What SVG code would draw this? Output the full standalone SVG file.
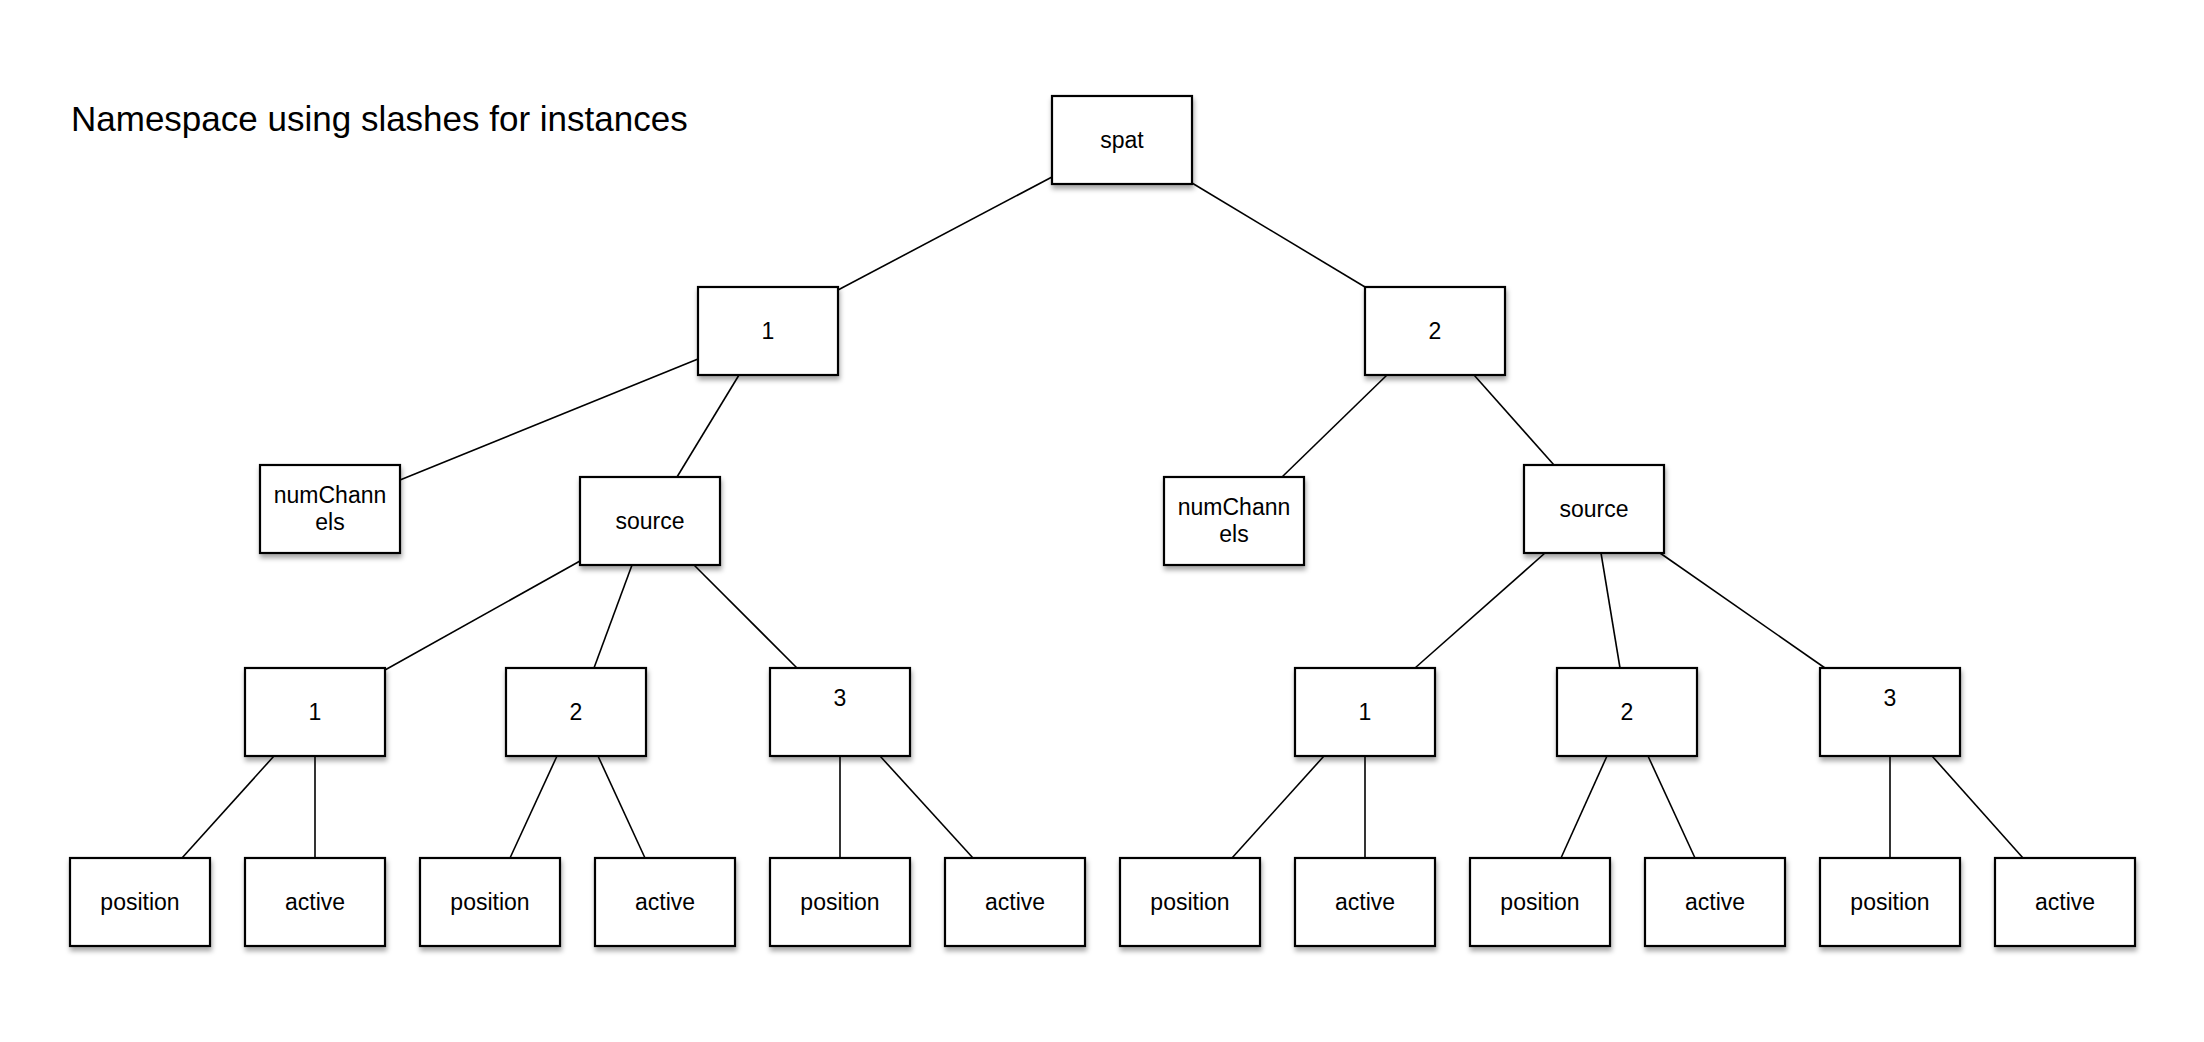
<svg xmlns="http://www.w3.org/2000/svg" width="2204" height="1042" viewBox="0 0 2204 1042">
<style>
.box{fill:#fff;stroke:#000;stroke-width:2.2;filter:url(#sh)}
.lbl{font-family:"Liberation Sans",Arial,Helvetica,sans-serif;font-size:23px;fill:#000;text-anchor:middle}
.title{font-family:"Liberation Sans",Arial,Helvetica,sans-serif;font-size:35px;fill:#000}
.edge{stroke:#000;stroke-width:1.6;fill:none}
</style>
<defs>
<filter id="sh" x="-20%" y="-20%" width="150%" height="150%">
<feDropShadow dx="1" dy="4" stdDeviation="2.5" flood-color="#000" flood-opacity="0.35"/>
</filter>
</defs>
<rect width="2204" height="1042" fill="#fff"/>
<text class="title" x="71" y="131">Namespace using slashes for instances</text>
<g id="connectors">
<line class="edge" x1="1052" y1="177" x2="838" y2="290"/>
<line class="edge" x1="1192" y1="183" x2="1365" y2="287"/>
<line class="edge" x1="698" y1="359" x2="400" y2="480"/>
<line class="edge" x1="739" y1="375" x2="677" y2="477"/>
<line class="edge" x1="580" y1="561" x2="385" y2="670"/>
<line class="edge" x1="632" y1="565" x2="594" y2="668"/>
<line class="edge" x1="694" y1="565" x2="797" y2="668"/>
<line class="edge" x1="274" y1="756" x2="182" y2="858"/>
<line class="edge" x1="315" y1="756" x2="315" y2="858"/>
<line class="edge" x1="557" y1="756" x2="510" y2="858"/>
<line class="edge" x1="598" y1="756" x2="645" y2="858"/>
<line class="edge" x1="840" y1="756" x2="840" y2="858"/>
<line class="edge" x1="880" y1="756" x2="973" y2="858"/>
<line class="edge" x1="1387" y1="375" x2="1282" y2="477"/>
<line class="edge" x1="1474" y1="375" x2="1554" y2="465"/>
<line class="edge" x1="1545" y1="553" x2="1415" y2="668"/>
<line class="edge" x1="1601" y1="553" x2="1620" y2="668"/>
<line class="edge" x1="1660" y1="553" x2="1825" y2="668"/>
<line class="edge" x1="1324" y1="756" x2="1232" y2="858"/>
<line class="edge" x1="1365" y1="756" x2="1365" y2="858"/>
<line class="edge" x1="1607" y1="756" x2="1561" y2="858"/>
<line class="edge" x1="1648" y1="756" x2="1695" y2="858"/>
<line class="edge" x1="1890" y1="756" x2="1890" y2="858"/>
<line class="edge" x1="1932" y1="756" x2="2023" y2="858"/>
</g>
<g id="spat"><rect class="box" x="1052" y="96" width="140" height="88"/><text class="lbl" x="1122" y="148">spat</text></g>
<g id="n1"><rect class="box" x="698" y="287" width="140" height="88"/><text class="lbl" x="768" y="339">1</text></g>
<g id="n2"><rect class="box" x="1365" y="287" width="140" height="88"/><text class="lbl" x="1435" y="339">2</text></g>
<g id="n1_numChannels"><rect class="box" x="260" y="465" width="140" height="88"/><text class="lbl" x="330" y="503">numChann</text><text class="lbl" x="330" y="530">els</text></g>
<g id="n1_source"><rect class="box" x="580" y="477" width="140" height="88"/><text class="lbl" x="650" y="529">source</text></g>
<g id="n2_numChannels"><rect class="box" x="1164" y="477" width="140" height="88"/><text class="lbl" x="1234" y="515">numChann</text><text class="lbl" x="1234" y="542">els</text></g>
<g id="n2_source"><rect class="box" x="1524" y="465" width="140" height="88"/><text class="lbl" x="1594" y="517">source</text></g>
<g id="n1_s1"><rect class="box" x="245" y="668" width="140" height="88"/><text class="lbl" x="315" y="720">1</text></g>
<g id="n1_s2"><rect class="box" x="506" y="668" width="140" height="88"/><text class="lbl" x="576" y="720">2</text></g>
<g id="n1_s3"><rect class="box" x="770" y="668" width="140" height="88"/><text class="lbl" x="840" y="706">3</text></g>
<g id="n2_s1"><rect class="box" x="1295" y="668" width="140" height="88"/><text class="lbl" x="1365" y="720">1</text></g>
<g id="n2_s2"><rect class="box" x="1557" y="668" width="140" height="88"/><text class="lbl" x="1627" y="720">2</text></g>
<g id="n2_s3"><rect class="box" x="1820" y="668" width="140" height="88"/><text class="lbl" x="1890" y="706">3</text></g>
<g id="n1_s1_position"><rect class="box" x="70" y="858" width="140" height="88"/><text class="lbl" x="140" y="910">position</text></g>
<g id="n1_s1_active"><rect class="box" x="245" y="858" width="140" height="88"/><text class="lbl" x="315" y="910">active</text></g>
<g id="n1_s2_position"><rect class="box" x="420" y="858" width="140" height="88"/><text class="lbl" x="490" y="910">position</text></g>
<g id="n1_s2_active"><rect class="box" x="595" y="858" width="140" height="88"/><text class="lbl" x="665" y="910">active</text></g>
<g id="n1_s3_position"><rect class="box" x="770" y="858" width="140" height="88"/><text class="lbl" x="840" y="910">position</text></g>
<g id="n1_s3_active"><rect class="box" x="945" y="858" width="140" height="88"/><text class="lbl" x="1015" y="910">active</text></g>
<g id="n2_s1_position"><rect class="box" x="1120" y="858" width="140" height="88"/><text class="lbl" x="1190" y="910">position</text></g>
<g id="n2_s1_active"><rect class="box" x="1295" y="858" width="140" height="88"/><text class="lbl" x="1365" y="910">active</text></g>
<g id="n2_s2_position"><rect class="box" x="1470" y="858" width="140" height="88"/><text class="lbl" x="1540" y="910">position</text></g>
<g id="n2_s2_active"><rect class="box" x="1645" y="858" width="140" height="88"/><text class="lbl" x="1715" y="910">active</text></g>
<g id="n2_s3_position"><rect class="box" x="1820" y="858" width="140" height="88"/><text class="lbl" x="1890" y="910">position</text></g>
<g id="n2_s3_active"><rect class="box" x="1995" y="858" width="140" height="88"/><text class="lbl" x="2065" y="910">active</text></g>
</svg>
